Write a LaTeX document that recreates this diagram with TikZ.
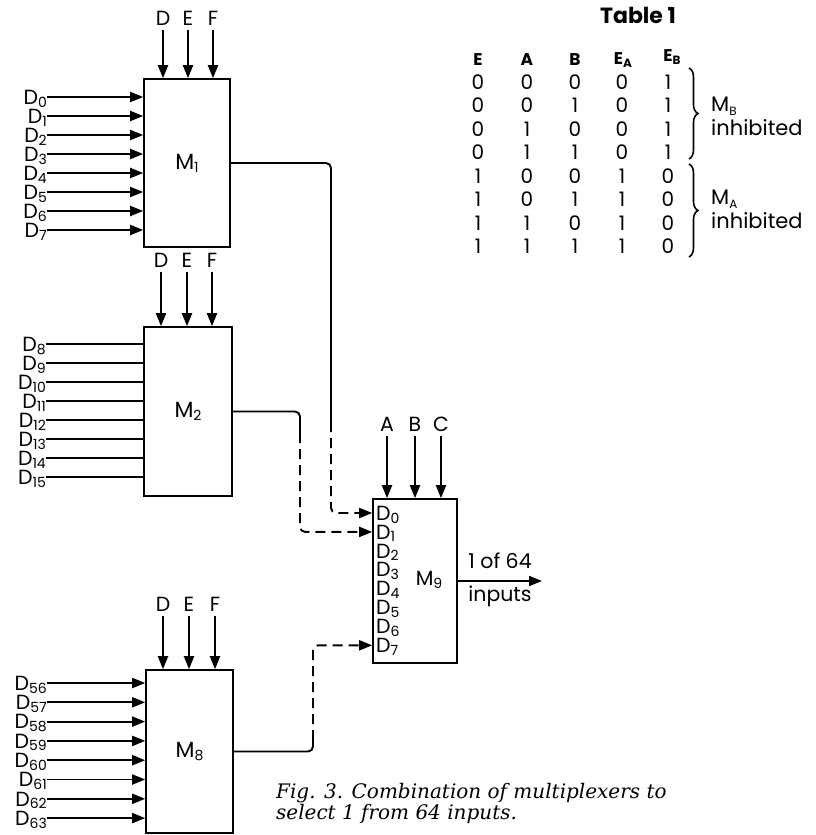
\documentclass[tikz,border=0pt]{standalone}
\usepackage{fontspec}
\setmainfont{Poppins}
\newfontfamily\capfont{DejaVu Serif}
\usetikzlibrary{arrows.meta,decorations.pathreplacing}
\newcommand\lo[1]{\raisebox{-0.25ex}{\fontsize{14}{14}\selectfont #1}}
\newcommand\hlo[1]{\raisebox{-0.4ex}{\fontsize{12}{12}\selectfont #1}}
\tikzset{
  mux/.style={draw=black,line width=1.6pt,rectangle,inner sep=0pt,font=\fontsize{22}{24}\selectfont},
  lab/.style={inner sep=0pt,text height=14.5pt,text depth=0pt,font=\fontsize{20.5}{22}\selectfont},
  sel/.style={lab,inner ysep=5pt},
  wire/.style={draw=black,line width=1.9pt},
  inarr/.style={wire,-{Triangle[length=13pt,width=10pt]}},
  dwire/.style={wire,dash pattern=on 10pt off 6pt,rounded corners=5pt},
  cell/.style={inner sep=0pt,font=\fontsize{20}{22}\selectfont},
  head/.style={inner sep=0pt,font=\fontsize{17}{19}\selectfont\bfseries},
}

\begin{document}
\begin{tikzpicture}[x=1pt,y=-1pt]
\useasboundingbox (0,0) rectangle (815,835);
% multiplexers
\node[mux,minimum width=86pt,minimum height=168pt] (m1) at (187,163) {M\lo{1}};
\node[mux,minimum width=88pt,minimum height=169pt] (m2) at (188,411.5) {M\lo{2}};
\node[mux,minimum width=87pt,minimum height=163pt] (m8) at (189.5,751.5) {M\lo{8}};
\node[mux,minimum width=84pt,minimum height=164pt] (m9) at (415,581) {};
\node[lab] (m9lab) at (429,578) {M\lo{9}};

% select lines
\foreach \s/\x in {D/163,E/188,F/213} {
  \node[sel] (a1\s) at (\x,18) {\s};
  \draw[inarr] (a1\s.south) -- (a1\s.south |- m1.north);
}
\foreach \s/\x in {D/161,E/187,F/212} {
  \node[sel] (a2\s) at (\x,260) {\s};
  \draw[inarr] (a2\s.south) -- (a2\s.south |- m2.north);
}
\foreach \s/\x in {D/163,E/189,F/215} {
  \node[sel] (a8\s) at (\x,604) {\s};
  \draw[inarr] (a8\s.south) -- (a8\s.south |- m8.north);
}
\foreach \s/\x in {A/387,B/415,C/441} {
  \node[sel] (a9\s) at (\x,424) {\s};
  \draw[inarr] (a9\s.south) -- (a9\s.south |- m9.north);
}

% data inputs
\foreach \i in {0,...,7} {
  \node[lab,anchor=east] (i1\i) at (47,{97+19*\i}) {D\lo{\i}};
  \draw[inarr] (i1\i.east) -- (i1\i.east -| m1.west);
}
\foreach \n [count=\k from 0] in {8,...,15} {
  \node[lab,anchor=east] (i2\k) at (46,{344+19*\k}) {D\lo{\n}};
  \draw[wire] (i2\k.east) -- (i2\k.east -| m2.west);
}
\foreach \n [count=\k from 0] in {56,...,63} {
  \node[lab,anchor=east] (i8\k) at (47,{683+19.3*\k}) {D\lo{\n}};
  \draw[inarr] (i8\k.east) -- (i8\k.east -| m8.west);
}
\foreach \i in {0,...,7} {
  \node[lab,anchor=west] (n\i) at (376,{513+18.9*\i}) {D\lo{\i}};
}

% connections to M9
\coordinate (j1) at (331,422);
\coordinate (j2) at (300,433);
\coordinate (j8) at (313,740);
\draw[wire,rounded corners=5pt] (m1.east) -| (j1);
\draw[dwire,-{Triangle[length=13pt,width=10pt]}] (j1) |- (m9.west |- n0);
\draw[wire,rounded corners=5pt] (m2.east) -| (j2);
\draw[dwire,-{Triangle[length=13pt,width=10pt]}] (j2) |- (m9.west |- n1);
\draw[wire,rounded corners=5pt] (m8.east) -| (j8);
\draw[dwire,-{Triangle[length=13pt,width=10pt]}] (j8) |- (m9.west |- n7);

% output
\coordinate (out) at (542,581);
\draw[inarr] (m9.east) -- (out);
\node[lab] (o1) at (500,561) {1 of 64};
\node[lab] (o2) at (500,594) {inputs};

% table
\node[inner sep=0pt,font=\fontsize{22}{24}\selectfont\bfseries] (ttl) at (638,15) {Table 1};
\node[head] (hE) at (478,60) {E};
\node[head] (hA) at (527,60) {A};
\node[head] (hB) at (575,60) {B};
\node[head] (hEA) at (623,60) {E\hlo{A}};
\node[head] (hEB) at (672,57) {E\hlo{B}};
\foreach \a/\b/\c/\d/\e [count=\k from 0] in
  {0/0/0/0/1,0/0/1/0/1,0/1/0/0/1,0/1/1/0/1,1/0/0/1/0,1/0/1/1/0,1/1/0/1/0,1/1/1/1/0} {
  \node[cell] (r\k a) at (478,{82+23.5*\k}) {\a};
  \node[cell] (r\k b) at (527,{82+23.5*\k}) {\b};
  \node[cell] (r\k c) at (575,{82+23.5*\k}) {\c};
  \node[cell] (r\k d) at (622,{82+23.5*\k}) {\d};
  \node[cell] (r\k e) at (668,{82+23.5*\k}) {\e};
}
\coordinate (b1) at (689,68);
\coordinate (b2) at (689,159);
\coordinate (b3) at (689,164);
\coordinate (b4) at (689,257);
\draw[line width=1.6pt,decorate,decoration={brace,amplitude=9pt}] (b1) -- (b2);
\draw[line width=1.6pt,decorate,decoration={brace,amplitude=9pt}] (b3) -- (b4);
\node[anchor=west,align=left,inner sep=0pt,font=\fontsize{21}{24}\selectfont] (mb) at (711,116) {M\hlo{B}\\inhibited};
\node[anchor=west,align=left,inner sep=0pt,font=\fontsize{21}{24}\selectfont] (ma) at (711,209) {M\hlo{A}\\inhibited};

% caption
\node[anchor=north west,align=left,inner sep=0pt,font=\capfont\itshape\fontsize{20}{21}\selectfont] (cap) at (276,783)
  {Fig. 3. Combination of multiplexers to\\select 1 from 64 inputs.};
\end{tikzpicture}
\end{document}
